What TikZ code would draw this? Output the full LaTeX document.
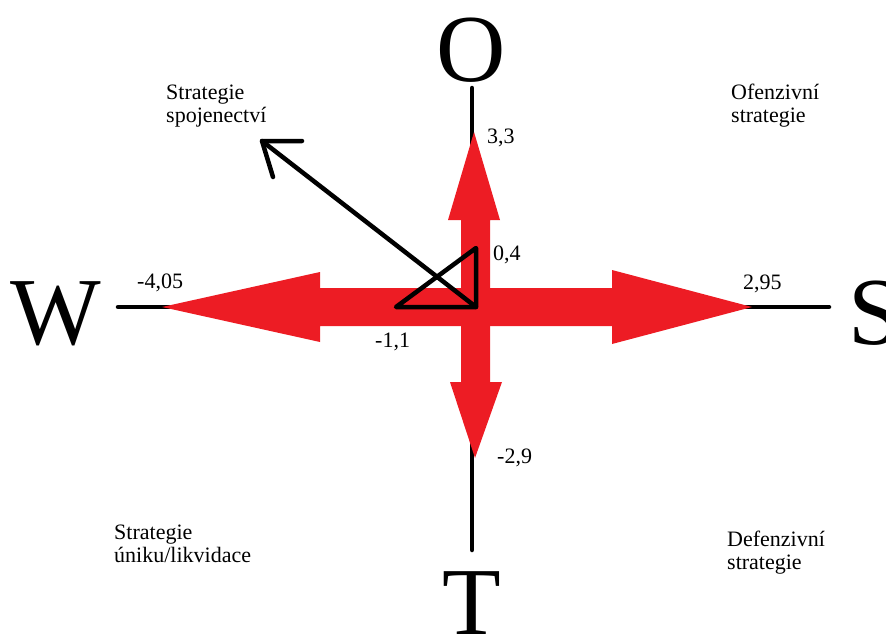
\documentclass[tikz,border=0pt]{standalone}
\usepackage{fontspec}
\setmainfont{Liberation Serif}
\usetikzlibrary{positioning,calc}
\definecolor{arrowred}{HTML}{ED1C24}
\definecolor{ink}{HTML}{000000}

\begin{document}
\begin{tikzpicture}[x=1pt,y=-1pt,
  axis/.style={ink,line width=4.5pt,line cap=round},
  pole/.style={inner sep=0,anchor=base,font=\fontsize{96}{96}\selectfont},
  val/.style={inner sep=0,anchor=base west,font=\fontsize{22}{22}\selectfont},
  quad/.style={inner sep=0,anchor=base west,align=left,font=\fontsize{22}{23}\selectfont}]
  \useasboundingbox (0,0) rectangle (886,637);
  % axis ends
  \coordinate (wl) at (118,307);
  \coordinate (sr) at (829,307);
  \coordinate (ot) at (472,88);
  \coordinate (tb) at (472,550);
  \node[pole] (w) at (56,344){W};
  \node[pole] (s) at (875,344){S};
  \node[pole] (o) at (471,81){O};
  \node[pole] (t) at (472,634){T};
  \draw[axis] (wl)--(sr);
  \draw[axis] (ot)--(tb);
  % red arrows
  \fill[arrowred] (162,307)--(320,272)--(320,288)--(612,288)--(612,270)--(752,307)
    --(612,344)--(612,326)--(320,326)--(320,342)--cycle;
  \fill[arrowred] (474,132)--(500,220)--(490,220)--(490,382)--(502,382)--(475,458)
    --(450,382)--(461,382)--(461,220)--(448,220)--cycle;
  % triangle and arrow
  \coordinate (c) at (476,307);
  \coordinate (tl) at (396,307);
  \coordinate (tt) at (476,248);
  \coordinate (spk) at (262,141);
  \draw[axis,line join=round] (tl)--(c)--(tt)--cycle;
  \draw[axis] (c)--(spk);
  \draw[axis,line join=round] (spk) ++(40,0)--(spk)--++(11,36);
  % values
  \node[val] (v1) at (487,143){3,3};
  \node[val] (v2) at (493,260){0,4};
  \node[val] (v3) at (137,288){-4,05};
  \node[val] (v4) at (743,289){2,95};
  \node[val] (v5) at (375,347){-1,1};
  \node[val] (v6) at (497,463){-2,9};
  % quadrants (base = last line)
  \node[quad] (q1) at (166,122){Strategie\\spojenectví};
  \node[quad] (q2) at (731,122){Ofenzivní\\strategie};
  \node[quad] (q3) at (114,562){Strategie\\úniku/likvidace};
  \node[quad] (q4) at (727,569){Defenzivní\\strategie};
\end{tikzpicture}
\end{document}
